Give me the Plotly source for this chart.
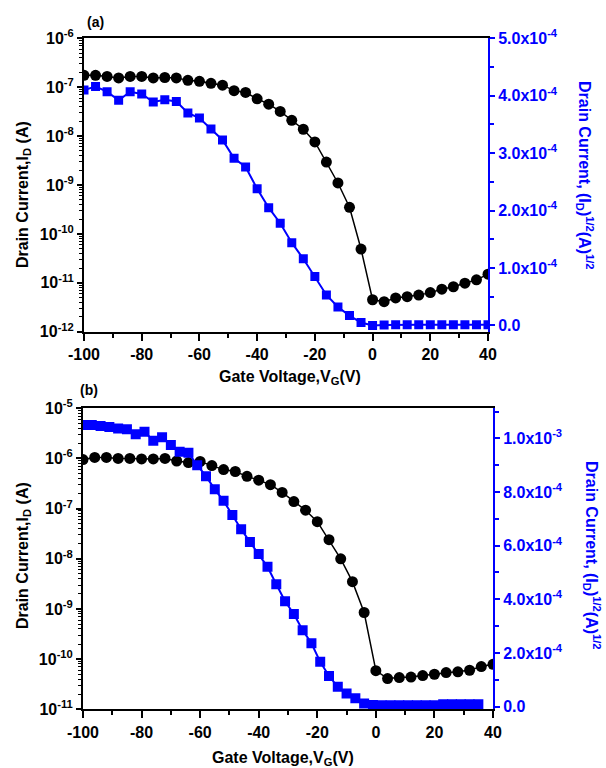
import plotly.graph_objects as go

# ---------------- data ----------------
# Panel (a)
vg_a = list(range(-100, 41, 4))
id_a = [1.75e-7, 1.75e-7, 1.66e-7, 1.55e-7, 1.66e-7, 1.66e-7, 1.55e-7, 1.58e-7, 1.55e-7,
        1.38e-7, 1.32e-7, 1.20e-7, 1.10e-7, 8.5e-8, 7.8e-8, 5.8e-8, 4.5e-8, 3.2e-8,
        2.1e-8, 1.38e-8, 7.6e-9, 2.95e-9, 1.1e-9, 3.5e-10, 4.9e-11, 4.5e-12, 4.1e-12,
        4.9e-12, 5.2e-12, 5.6e-12, 6.3e-12, 7.4e-12, 8.3e-12, 9.8e-12, 1.15e-11, 1.5e-11]
sqrt_a = [4.10e-4, 4.16e-4, 4.07e-4, 3.92e-4, 4.07e-4, 4.03e-4, 3.89e-4, 3.93e-4, 3.90e-4,
          3.70e-4, 3.61e-4, 3.42e-4, 3.23e-4, 2.91e-4, 2.76e-4, 2.38e-4, 2.05e-4, 1.78e-4,
          1.44e-4, 1.16e-4, 0.85e-4, 0.53e-4, 0.32e-4, 0.17e-4, 0.05e-4, 0.0, 0.005e-4,
          0.01e-4, 0.01e-4, 0.01e-4, 0.01e-4, 0.01e-4, 0.01e-4, 0.01e-4, 0.01e-4, 0.01e-4]

# Panel (b)
vg_b = list(range(-100, 41, 4))
id_b = [9.5e-7, 1.05e-6, 1.05e-6, 1.0e-6, 1.0e-6, 9.8e-7, 9.8e-7, 1.0e-6, 8.9e-7,
        8.3e-7, 8.7e-7, 7.2e-7, 6.0e-7, 5.5e-7, 4.4e-7, 3.7e-7, 3.0e-7, 2.1e-7,
        1.38e-7, 9.3e-8, 5.5e-8, 2.4e-8, 1.0e-8, 3.5e-9, 8.5e-10, 5.9e-11, 4.1e-11,
        4.3e-11, 4.4e-11, 4.7e-11, 5.0e-11, 5.4e-11, 5.6e-11, 6.0e-11, 7.1e-11, 7.9e-11]
vg_b_sq = list(range(-100, 36, 3))
sqrt_b = [10.50e-4, 10.50e-4, 10.46e-4, 10.42e-4, 10.37e-4, 10.34e-4, 10.15e-4, 10.25e-4,
          9.91e-4, 10.04e-4, 9.75e-4, 9.50e-4, 9.46e-4, 9.00e-4, 8.59e-4, 8.10e-4, 7.67e-4,
          7.14e-4, 6.61e-4, 6.14e-4, 5.69e-4, 5.21e-4, 4.56e-4, 3.93e-4, 3.45e-4, 2.85e-4,
          2.36e-4, 1.67e-4, 1.14e-4, 0.74e-4, 0.49e-4, 0.31e-4, 0.12e-4, 0.06e-4, 0.05e-4,
          0.05e-4, 0.05e-4, 0.05e-4, 0.05e-4, 0.05e-4, 0.05e-4, 0.09e-4, 0.09e-4, 0.09e-4,
          0.09e-4, 0.09e-4]

x_ticks = [-100, -80, -60, -40, -20, 0, 20, 40]
log_a_exps = [-12, -11, -10, -9, -8, -7, -6]
log_b_exps = [-11, -10, -9, -8, -7, -6, -5]
right_a_ticks = [0.0, 1e-4, 2e-4, 3e-4, 4e-4, 5e-4]
right_a_text = ["0.0", "1.0x10<sup>-4</sup>", "2.0x10<sup>-4</sup>", "3.0x10<sup>-4</sup>",
                "4.0x10<sup>-4</sup>", "5.0x10<sup>-4</sup>"]
right_b_ticks = [0.0, 2e-4, 4e-4, 6e-4, 8e-4, 1e-3]
right_b_text = ["0.0", "2.0x10<sup>-4</sup>", "4.0x10<sup>-4</sup>", "6.0x10<sup>-4</sup>",
                "8.0x10<sup>-4</sup>", "1.0x10<sup>-3</sup>"]

BLUE = "#0000FF"
FONT = "Liberation Sans, Arial, sans-serif"
W, H = 606, 768


def minor_log(exps):
    vals = []
    for e in exps[:-1]:
        for m in range(2, 10):
            vals.append(m * 10.0 ** e)
    return vals


fig = go.Figure()

fig.add_trace(go.Scatter(x=vg_a, y=id_a, xaxis="x", yaxis="y", mode="lines+markers",
                         line=dict(color="black", width=1.5),
                         marker=dict(symbol="circle", size=11, color="black"),
                         showlegend=False))
fig.add_trace(go.Scatter(x=vg_a, y=sqrt_a, xaxis="x", yaxis="y2", mode="lines+markers",
                         line=dict(color=BLUE, width=2),
                         marker=dict(symbol="square", size=9, color=BLUE),
                         showlegend=False))
fig.add_trace(go.Scatter(x=vg_b, y=id_b, xaxis="x2", yaxis="y3", mode="lines+markers",
                         line=dict(color="black", width=1.5),
                         marker=dict(symbol="circle", size=11, color="black"),
                         showlegend=False))
fig.add_trace(go.Scatter(x=vg_b_sq, y=sqrt_b, xaxis="x2", yaxis="y4", mode="lines+markers",
                         line=dict(color=BLUE, width=2),
                         marker=dict(symbol="square", size=10, color=BLUE),
                         showlegend=False))

tick_font = dict(family=FONT, size=16, color="black", weight="bold")
blue_tick_font = dict(family=FONT, size=16, color=BLUE, weight="bold")


def xaxis_cfg(dom, anchor):
    return dict(domain=dom, anchor=anchor, range=[-100, 40], tickvals=x_ticks,
                ticktext=[str(v) for v in x_ticks], ticks="outside", ticklen=7, tickwidth=1.5,
                tickcolor="black", showline=True, linecolor="black", linewidth=2,
                mirror=True, showgrid=False, zeroline=False, tickfont=tick_font,
                automargin=False,
                minor=dict(dtick=10, tick0=0, ticks="outside", ticklen=4, tickwidth=1.5,
                           tickcolor="black"))


def logaxis_cfg(dom, anchor, exps):
    return dict(domain=dom, anchor=anchor, type="log", range=[exps[0], exps[-1]],
                tickvals=[10.0 ** e for e in exps],
                ticktext=["10<sup>%d</sup>" % e for e in exps],
                ticks="outside", ticklen=5, tickwidth=1.5, tickcolor="black",
                showline=True, linecolor="black", linewidth=2, showgrid=False,
                zeroline=False, tickfont=tick_font, automargin=False,
                minor=dict(tickvals=minor_log(exps), ticks="outside", ticklen=3,
                           tickwidth=1, tickcolor="black"))


def rightaxis_cfg(overlay, anchor, rng, tv, tt, mdt):
    return dict(overlaying=overlay, anchor=anchor, side="right", range=rng,
                tickvals=tv, ticktext=tt, ticks="outside", ticklen=5, tickwidth=1.5,
                tickcolor=BLUE, showline=True, linecolor=BLUE, linewidth=2,
                showgrid=False, zeroline=False, tickfont=blue_tick_font, automargin=False,
                minor=dict(dtick=mdt, tick0=0, ticks="outside", ticklen=4, tickwidth=1.5,
                           tickcolor=BLUE))


ya_dom = [1 - 331.7 / H, 1 - 38.3 / H]
yb_dom = [1 - 709.3 / H, 1 - 408.3 / H]

fig.update_layout(
    width=W, height=H, margin=dict(l=0, r=0, t=0, b=0, autoexpand=False),
    paper_bgcolor="white", plot_bgcolor="white",
    xaxis=xaxis_cfg([84 / W, 488 / W], "y"),
    yaxis=logaxis_cfg(ya_dom, "x", log_a_exps),
    yaxis2=rightaxis_cfg("y", "x", [-1.1e-5, 5e-4], right_a_ticks, right_a_text, 5e-5),
    xaxis2=xaxis_cfg([83 / W, 493 / W], "y3"),
    yaxis3=logaxis_cfg(yb_dom, "x2", log_b_exps),
    yaxis4=rightaxis_cfg("y3", "x2", [-1.0e-5, 1.112e-3], right_b_ticks, right_b_text, 1e-4),
)

title_font = dict(family=FONT, size=16, color="black", weight="bold")
blue_title_font = dict(family=FONT, size=16, color=BLUE, weight="bold")
right_title = "Drain Current, (I<sub>D</sub>)<sup>1/2</sup>(A)<sup>1/2</sup>"
left_title = "Drain Current,I<sub>D</sub> (A)"
x_title = "Gate Voltage,V<sub>G</sub>(V)"

annots = [
    dict(text="(a)", x=95 / W, y=1 - 22 / H, font=dict(family=FONT, size=14, color="black", weight="bold")),
    dict(text="(b)", x=89 / W, y=1 - 390 / H, font=dict(family=FONT, size=14, color="black", weight="bold")),
    dict(text=left_title, x=23 / W, y=1 - 195 / H, textangle=-90, font=title_font),
    dict(text=left_title, x=23 / W, y=1 - 556 / H, textangle=-90, font=title_font),
    dict(text=x_title, x=290 / W, y=1 - 377 / H, font=title_font),
    dict(text=x_title, x=283 / W, y=1 - 758 / H, font=title_font),
    dict(text=right_title, x=585 / W, y=1 - 175 / H, textangle=90, font=blue_title_font),
    dict(text=right_title, x=592 / W, y=1 - 555 / H, textangle=90, font=blue_title_font),
]
for a in annots:
    a.update(xref="paper", yref="paper", showarrow=False, xanchor="center", yanchor="middle")
fig.update_layout(annotations=annots)

fig.write_html("out.html", config={"displayModeBar": False},
               post_script="document.body.style.margin='0';document.body.style.overflow='hidden';")
